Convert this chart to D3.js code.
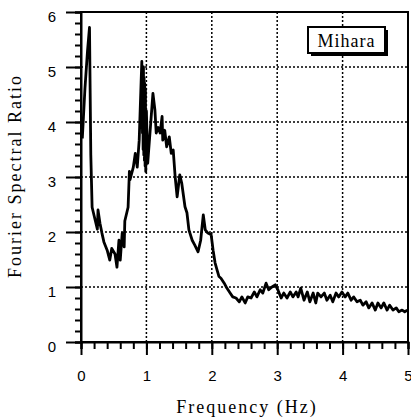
<!DOCTYPE html>
<html lang="en">
<head>
    <meta charset="UTF-8">
    <title>Mihara</title>
    <script type="text/javascript" src="https://cdn.jsdelivr.net/npm/d3@7/dist/d3.min.js"></script>
    <style>
        body { margin: 0; background: #fff; }
        .axis path, .axis line {
            fill: none;
            stroke: black;
            stroke-width: 2;
        }
        .axis text {
            font-family: "Liberation Sans", Arial, sans-serif;
            font-size: 15px;
            fill: black;
        }
        .grid line {
            stroke: black;
            stroke-width: 1.5;
            stroke-dasharray: 2, 2;
        }
        .title {
            font-family: "Liberation Serif", "Times New Roman", serif;
            font-size: 18px;
            fill: black;
        }
    </style>
</head>
<body>
<script type="text/javascript">
    let width = 411;
    let height = 419;

    // data
    let frequency = [0.02, 0.06, 0.10, 0.13, 0.15, 0.17, 0.20, 0.22, 0.25, 0.26, 0.29, 0.32, 0.35, 0.40,
        0.44, 0.47, 0.52, 0.55, 0.58, 0.60, 0.63, 0.66, 0.67, 0.72, 0.74, 0.75, 0.80, 0.83, 0.86, 0.89,
        0.92, 0.93, 0.94, 0.945, 0.95, 0.955, 0.96, 0.965, 0.97, 0.975, 0.98, 0.985, 0.99, 1.00, 1.02,
        1.10, 1.13, 1.15, 1.18, 1.21, 1.24,
        1.25, 1.28, 1.31, 1.35, 1.38, 1.41, 1.44, 1.47, 1.51, 1.54, 1.59, 1.62, 1.65, 1.70, 1.74,
        1.79, 1.83, 1.87, 1.90, 1.94, 1.99, 2.02, 2.05, 2.08, 2.11, 2.14, 2.19, 2.23, 2.28, 2.32,
        2.37, 2.42, 2.46, 2.51, 2.55, 2.60, 2.65, 2.69, 2.74, 2.78, 2.83, 2.87, 2.92, 2.97, 3.01,
        3.06, 3.10, 3.15, 3.20, 3.24, 3.29, 3.32, 3.36, 3.41, 3.46, 3.50, 3.55, 3.59, 3.62, 3.67,
        3.72, 3.76, 3.81, 3.85, 3.90, 3.94, 3.99, 4.04, 4.08, 4.13, 4.17, 4.22, 4.27, 4.31, 4.36,
        4.40, 4.45, 4.50, 4.54, 4.59, 4.63, 4.68, 4.72, 4.77, 4.82, 4.86, 4.91, 4.95, 4.99];
    let ratio = [3.70, 4.60, 5.30, 5.72, 3.40, 2.45, 2.30, 2.20, 2.05, 2.40, 2.16, 1.98, 1.82, 1.67,
        1.49, 1.70, 1.60, 1.36, 1.85, 1.49, 1.98, 1.73, 2.20, 2.45, 3.10, 2.95, 3.18, 3.43, 3.18, 3.67,
        4.76, 5.10, 3.80, 4.90, 3.50, 5.00, 3.40, 4.80, 3.30, 4.70, 3.20, 4.60, 3.10, 4.20, 3.25,
        4.52, 4.22, 3.80, 3.90, 3.80, 4.10,
        3.67, 3.85, 3.55, 3.73, 3.43, 3.49, 3.00, 2.64, 3.04, 2.89, 2.46, 2.35, 2.04, 1.85, 1.76,
        1.64, 1.85, 2.31, 2.04, 1.98, 1.95, 1.67, 1.44, 1.31, 1.19, 1.16, 1.07, 0.98, 0.89, 0.82,
        0.80, 0.73, 0.82, 0.71, 0.82, 0.80, 0.91, 0.82, 0.95, 0.89, 1.07, 0.95, 1.00, 1.04, 0.95,
        0.80, 0.89, 0.80, 0.91, 0.82, 0.91, 0.82, 0.98, 0.76, 0.91, 0.73, 0.89, 0.71, 0.89, 0.82,
        0.89, 0.76, 0.85, 0.73, 0.89, 0.82, 0.91, 0.82, 0.89, 0.76, 0.82, 0.73, 0.76, 0.67, 0.73,
        0.62, 0.71, 0.58, 0.71, 0.62, 0.71, 0.58, 0.67, 0.58, 0.62, 0.55, 0.58, 0.55, 0.58];
    let xTicks = [0, 1, 2, 3, 4, 5];
    let yTicks = [0, 1, 2, 3, 4, 5, 6];
    let stationName = 'Mihara';

    let svg = d3.select('body')
        .append('svg')
        .attr('width', width)
        .attr('height', height);

    let x = d3.scaleLinear().domain([0, 5]).range([81, 408]);
    let y = d3.scaleLinear().domain([0, 6]).range([342, 12]);

    // dotted grid
    let grid = svg.append('g').attr('class', 'grid');
    grid.selectAll('.gx')
        .data(xTicks.slice(1, -1))
        .enter()
        .append('line')
        .attr('x1', d => x(d)).attr('x2', d => x(d))
        .attr('y1', y(6)).attr('y2', y(0));
    grid.selectAll('.gy')
        .data(yTicks.slice(1, -1))
        .enter()
        .append('line')
        .attr('y1', d => y(d)).attr('y2', d => y(d))
        .attr('x1', x(0)).attr('x2', x(5));

    // frame
    svg.append('rect')
        .attr('x', x(0)).attr('y', y(6))
        .attr('width', x(5) - x(0)).attr('height', y(0) - y(6))
        .attr('fill', 'none')
        .attr('stroke', 'black')
        .attr('stroke-width', 2);

    // minor ticks
    let minorX = d3.axisBottom(x).tickValues(d3.range(0, 5.01, 0.2)).tickSize(7).tickFormat('');
    let minorY = d3.axisLeft(y).tickValues(d3.range(0, 6.01, 0.2)).tickSize(6).tickFormat('');
    svg.append('g').attr('class', 'axis')
        .attr('transform', 'translate(0,' + y(0) + ')')
        .call(minorX);
    svg.append('g').attr('class', 'axis')
        .attr('transform', 'translate(' + x(0) + ',0)')
        .call(minorY);

    // major ticks and labels
    let xAxis = d3.axisBottom(x).tickValues(xTicks).tickSize(13).tickPadding(15).tickFormat(d3.format('d'));
    let yAxis = d3.axisLeft(y).tickValues(yTicks).tickSize(15).tickPadding(10).tickFormat(d3.format('d'));
    svg.append('g').attr('class', 'axis')
        .attr('transform', 'translate(0,' + y(0) + ')')
        .call(xAxis)
        .call(g => g.select('.domain').remove());
    svg.append('g').attr('class', 'axis')
        .attr('transform', 'translate(' + x(0) + ',0)')
        .call(yAxis)
        .call(g => g.select('.domain').remove())
        .selectAll('text').attr('dy', '0.6em');

    // spectral ratio curve
    let line = d3.line()
        .x((d, i) => x(frequency[i]))
        .y(d => y(d));
    svg.append('path')
        .datum(ratio)
        .attr('d', line)
        .attr('fill', 'none')
        .attr('stroke', 'black')
        .attr('stroke-width', 2.8)
        .attr('stroke-linejoin', 'round');

    // station label box
    let box = svg.append('g').attr('transform', 'translate(308,27)');
    box.append('rect')
        .attr('x', 3).attr('y', 3).attr('width', 77).attr('height', 26)
        .attr('fill', 'black');
    box.append('rect')
        .attr('x', 0).attr('y', 0).attr('width', 77).attr('height', 26)
        .attr('fill', 'white').attr('stroke', 'black').attr('stroke-width', 2);
    box.append('text')
        .attr('class', 'title')
        .attr('x', 38.5).attr('y', 20)
        .attr('text-anchor', 'middle')
        .attr('font-size', 20)
        .attr('letter-spacing', 1)
        .text(stationName);

    // axis titles
    svg.append('text')
        .attr('class', 'title')
        .attr('x', 247).attr('y', 413)
        .attr('text-anchor', 'middle')
        .attr('letter-spacing', 2)
        .text('Frequency (Hz)');
    svg.append('text')
        .attr('class', 'title')
        .attr('transform', 'translate(21,176) rotate(-90)')
        .attr('text-anchor', 'middle')
        .attr('letter-spacing', 2)
        .text('Fourier Spectral Ratio');
</script>
</body>
</html>
